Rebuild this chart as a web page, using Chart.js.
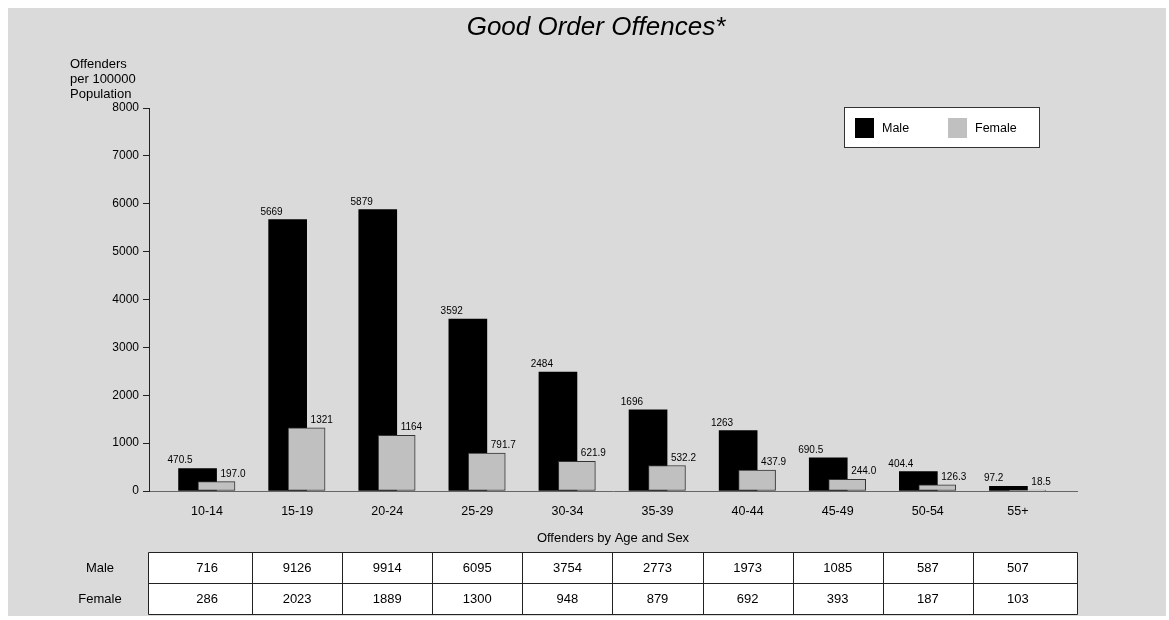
<!DOCTYPE html>
<html>
<head>
<meta charset="utf-8">
<title>Good Order Offences</title>
<script src="https://cdn.jsdelivr.net/npm/chart.js@4.4.3/dist/chart.umd.min.js"></script>
<style>
  html, body { margin: 0; padding: 0; background: #fff; }
  #wrap { position: relative; width: 1169px; height: 620px; }
</style>
</head>
<body>
<div id="wrap"><canvas id="chart" width="1169" height="620"></canvas></div>
<script>
const ageGroups = ["10-14", "15-19", "20-24", "25-29", "30-34", "35-39", "40-44", "45-49", "50-54", "55+"];
const maleRates = [470.5, 5669, 5879, 3592, 2484, 1696, 1263, 690.5, 404.4, 97.2];
const femaleRates = [197.0, 1321, 1164, 791.7, 621.9, 532.2, 437.9, 244.0, 126.3, 18.5];
const maleCounts = [716, 9126, 9914, 6095, 3754, 2773, 1973, 1085, 587, 507];
const femaleCounts = [286, 2023, 1889, 1300, 948, 879, 692, 393, 187, 103];
const yAxisTitle = ["Offenders", "per 100000", "Population"];

const FONT = '"Liberation Sans", Arial, Helvetica, sans-serif';
const BG = "#dadada";

// x domain: groups sit 0.644 units in from the axis ends, bars overlap by half
const X_MIN = -0.644;
const X_MAX = 9.656;
const BAR_SHIFT = 0.105;

Chart.defaults.font.family = FONT;
Chart.defaults.color = "#000";

function formatRate(value) {
  return value >= 1000 ? String(Math.round(value)) : value.toFixed(1);
}

const backgroundPlugin = {
  id: "panelBackground",
  beforeDraw(chart) {
    const { ctx } = chart;
    ctx.save();
    ctx.fillStyle = BG;
    ctx.fillRect(8, 8, 1158, 608);
    ctx.restore();
  },
};

const valueLabelPlugin = {
  id: "valueLabels",
  afterDatasetsDraw(chart) {
    const { ctx } = chart;
    ctx.save();
    ctx.font = `10px ${FONT}`;
    ctx.fillStyle = "#000";
    ctx.textBaseline = "alphabetic";
    chart.data.datasets.forEach((dataset, di) => {
      const meta = chart.getDatasetMeta(di);
      meta.data.forEach((bar, i) => {
        const text = formatRate(dataset.data[i].y);
        if (di === 0) {
          ctx.textAlign = "right";
          ctx.fillText(text, bar.x - 5, bar.y - 5);
        } else {
          ctx.textAlign = "left";
          ctx.fillText(text, bar.x + 4, bar.y - 5);
        }
      });
    });
    ctx.restore();
  },
};

const decorPlugin = {
  id: "decor",
  afterDraw(chart) {
    const { ctx, chartArea } = chart;
    const xScale = chart.scales.x;
    ctx.save();

    // title
    ctx.fillStyle = "#000";
    ctx.font = `italic 26px ${FONT}`;
    ctx.textAlign = "center";
    ctx.textBaseline = "middle";
    ctx.fillText("Good Order Offences*", 596, 28);

    // y axis title, three lines above the axis
    ctx.font = `13px ${FONT}`;
    ctx.textAlign = "left";
    yAxisTitle.forEach((line, i) => {
      ctx.fillText(line, 70, 64 + i * 15);
    });

    // legend box
    const lx = 844.5, ly = 107.5, lw = 195, lh = 40;
    ctx.fillStyle = "#fff";
    ctx.fillRect(lx, ly, lw, lh);
    ctx.strokeStyle = "#333";
    ctx.lineWidth = 1;
    ctx.strokeRect(lx, ly, lw, lh);
    const legendItems = [
      { ds: chart.data.datasets[0], x: 855 },
      { ds: chart.data.datasets[1], x: 948 },
    ];
    ctx.font = `12.5px ${FONT}`;
    ctx.textBaseline = "middle";
    legendItems.forEach(({ ds, x }) => {
      ctx.fillStyle = ds.backgroundColor;
      ctx.fillRect(x, 118, 19, 20);
      ctx.fillStyle = "#000";
      ctx.fillText(ds.label, x + 27, 129);
    });

    // data table under the axis
    const top = 552.5;
    const rowH = 31;
    const left = chartArea.left - 0.5;
    const right = chartArea.right + 0.5;
    ctx.fillStyle = "#fff";
    ctx.fillRect(left, top, right - left, rowH * 2);
    ctx.strokeStyle = "#222";
    ctx.beginPath();
    ctx.moveTo(left, top);
    ctx.lineTo(right, top);
    ctx.moveTo(left, top + rowH);
    ctx.lineTo(right, top + rowH);
    ctx.moveTo(left, top + rowH * 2);
    ctx.lineTo(right, top + rowH * 2);
    ctx.moveTo(left, top);
    ctx.lineTo(left, top + rowH * 2);
    ctx.moveTo(right, top);
    ctx.lineTo(right, top + rowH * 2);
    for (let i = 0; i < ageGroups.length - 1; i++) {
      const bx = Math.round(xScale.getPixelForValue(i + 0.5)) + 0.5;
      ctx.moveTo(bx, top);
      ctx.lineTo(bx, top + rowH * 2);
    }
    ctx.stroke();

    ctx.fillStyle = "#000";
    ctx.font = `13px ${FONT}`;
    ctx.textAlign = "center";
    ctx.textBaseline = "middle";
    ctx.fillText("Male", 100, top + rowH / 2);
    ctx.fillText("Female", 100, top + rowH * 1.5);
    ageGroups.forEach((_, i) => {
      const cx = xScale.getPixelForValue(i);
      ctx.fillText(String(maleCounts[i]), cx, top + rowH / 2);
      ctx.fillText(String(femaleCounts[i]), cx, top + rowH * 1.5);
    });

    ctx.restore();
  },
};

new Chart(document.getElementById("chart"), {
  type: "bar",
  data: {
    datasets: [
      {
        label: "Male",
        data: maleRates.map((y, i) => ({ x: i, y })),
        backgroundColor: "#000000",
        borderWidth: 0,
        barThickness: 38,
        grouped: false,
        order: 1,
        xAxisID: "xMale",
      },
      {
        label: "Female",
        data: femaleRates.map((y, i) => ({ x: i, y })),
        backgroundColor: "#c0c0c0",
        borderColor: "#333333",
        borderWidth: 1,
        borderSkipped: false,
        barThickness: 37,
        grouped: false,
        order: 0,
        xAxisID: "xFemale",
      },
    ],
  },
  options: {
    responsive: false,
    animation: false,
    devicePixelRatio: 1,
    layout: {
      padding: { top: 108, right: 92, bottom: 0, left: 0 },
    },
    plugins: {
      legend: { display: false },
      title: { display: false },
      tooltip: { enabled: false },
    },
    scales: {
      x: {
        type: "linear",
        min: X_MIN,
        max: X_MAX,
        offset: false,
        afterFit(scale) {
          scale.height = 129;
        },
        grid: { display: false, drawTicks: false },
        border: { display: true, color: "#666", width: 1 },
        ticks: {
          stepSize: 1,
          includeBounds: false,
          autoSkip: false,
          maxRotation: 0,
          padding: 13,
          font: { size: 12.5 },
          callback: (value) => (Number.isInteger(value) ? ageGroups[value] ?? "" : ""),
        },
        title: {
          display: true,
          text: "Offenders by Age and Sex",
          font: { size: 13 },
          padding: { top: 0, bottom: 74 },
        },
      },
      xMale: {
        type: "linear",
        display: false,
        offset: false,
        min: X_MIN + BAR_SHIFT,
        max: X_MAX + BAR_SHIFT,
      },
      xFemale: {
        type: "linear",
        display: false,
        offset: false,
        min: X_MIN - BAR_SHIFT,
        max: X_MAX - BAR_SHIFT,
      },
      y: {
        min: 0,
        max: 8000,
        afterFit(scale) {
          scale.width = 149;
        },
        grid: {
          drawOnChartArea: false,
          drawTicks: true,
          tickLength: 6,
          color: "#222",
        },
        border: { display: true, color: "#222", width: 1 },
        ticks: {
          stepSize: 1000,
          padding: 4,
          font: { size: 12 },
          callback: (value) => String(value),
        },
      },
    },
  },
  plugins: [backgroundPlugin, valueLabelPlugin, decorPlugin],
});
</script>
</body>
</html>
